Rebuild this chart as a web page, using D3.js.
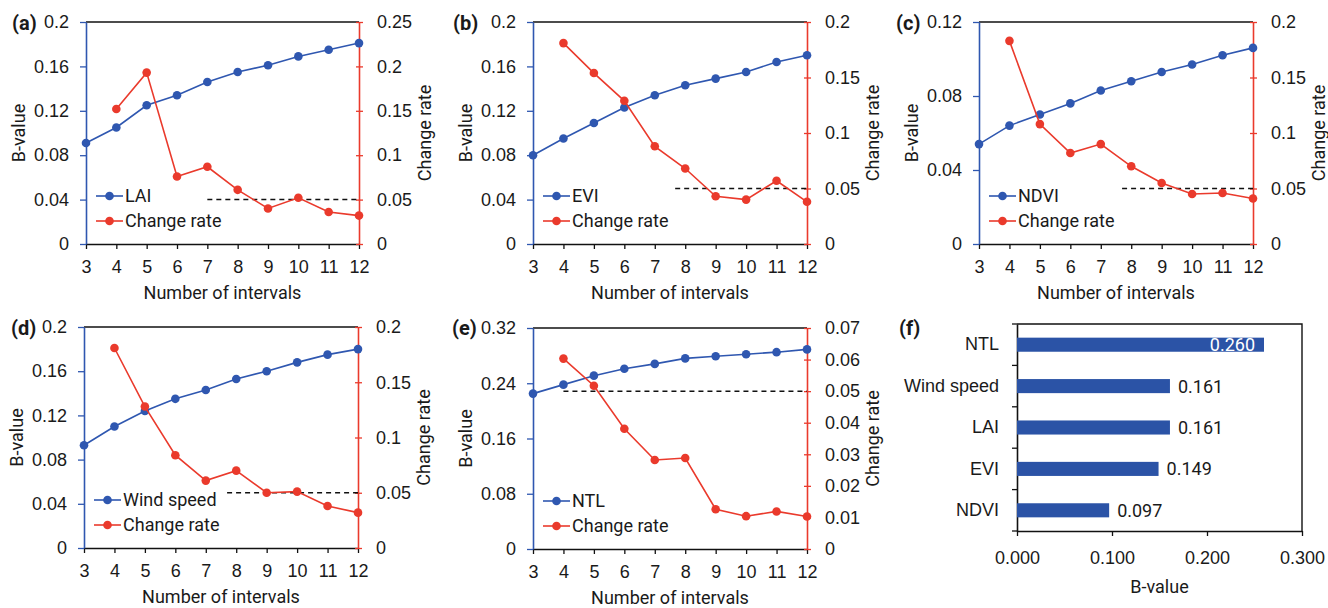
<!DOCTYPE html>
<html>
<head>
<meta charset="utf-8">
<script src="https://cdn.jsdelivr.net/npm/d3@7"></script>
<style>
  body { margin: 0; background: #fff; }
  svg { display: block; }
</style>
</head>
<body>
<script>
// number of intervals on the x axis of panels (a)-(e)
const intervals = [3, 4, 5, 6, 7, 8, 9, 10, 11, 12];
// change rates start at 4 intervals
const rateIntervals = intervals.slice(1);

const laiB = [0.091, 0.105, 0.125, 0.134, 0.146, 0.155, 0.161, 0.169, 0.175, 0.181];
const laiRate = [0.152, 0.193, 0.076, 0.087, 0.061, 0.040, 0.052, 0.036, 0.032];

const eviB = [0.080, 0.095, 0.109, 0.123, 0.134, 0.143, 0.149, 0.155, 0.164, 0.170];
const eviRate = [0.181, 0.154, 0.129, 0.088, 0.068, 0.043, 0.040, 0.057, 0.038];

const ndviB = [0.054, 0.064, 0.070, 0.076, 0.083, 0.088, 0.093, 0.097, 0.102, 0.106];
const ndviRate = [0.183, 0.108, 0.082, 0.090, 0.070, 0.055, 0.045, 0.046, 0.041];

const windB = [0.093, 0.110, 0.124, 0.135, 0.143, 0.153, 0.160, 0.168, 0.175, 0.180];
const windRate = [0.181, 0.128, 0.084, 0.061, 0.070, 0.050, 0.051, 0.038, 0.032];

const ntlB = [0.225, 0.238, 0.251, 0.261, 0.268, 0.276, 0.279, 0.282, 0.285, 0.289];
const ntlRate = [0.0603, 0.0517, 0.0381, 0.0282, 0.0288, 0.0126, 0.0104, 0.0119, 0.0103];

// threshold line and where it starts
const threshold = 0.05;
const dashStarts = [7, 7.67, 7.7, 7.7, 4];

// panel (f)
const factors = ["NTL", "Wind speed", "LAI", "EVI", "NDVI"];
const bValues = [0.260, 0.161, 0.161, 0.149, 0.097];
const barTicks = [0, 0.1, 0.2, 0.3];

const panels = [
  {tag: "(a)", name: "LAI", b: laiB, rate: laiRate, leftMax: 0.2, leftStep: 0.04, rightMax: 0.25, rightStep: 0.05},
  {tag: "(b)", name: "EVI", b: eviB, rate: eviRate, leftMax: 0.2, leftStep: 0.04, rightMax: 0.2, rightStep: 0.05},
  {tag: "(c)", name: "NDVI", b: ndviB, rate: ndviRate, leftMax: 0.12, leftStep: 0.04, rightMax: 0.2, rightStep: 0.05},
  {tag: "(d)", name: "Wind speed", b: windB, rate: windRate, leftMax: 0.2, leftStep: 0.04, rightMax: 0.2, rightStep: 0.05},
  {tag: "(e)", name: "NTL", b: ntlB, rate: ntlRate, leftMax: 0.32, leftStep: 0.08, rightMax: 0.07, rightStep: 0.01}
];

// plot boxes on the page
const slots = [
  {x0: 86, x1: 359, y0: 22, y1: 244, tagX: 12, tagY: 30},
  {x0: 533, x1: 807, y0: 22, y1: 244, tagX: 453, tagY: 30},
  {x0: 979, x1: 1253, y0: 22, y1: 244, tagX: 896, tagY: 30},
  {x0: 84, x1: 358, y0: 327, y1: 548, tagX: 11, tagY: 335},
  {x0: 533, x1: 807, y0: 328, y1: 549, tagX: 452, tagY: 335}
];
const barSlot = {x0: 1017, x1: 1302, y0: 324, y1: 531, tagX: 899, tagY: 335};

const blue = "#2f57b0";
const red = "#ea3a2c";
const barBlue = "#2b53a6";
const fontSize = 18;
const tagSize = 20;

const svg = d3.select("body").append("svg")
  .attr("width", 1328)
  .attr("height", 608)
  .style("font-family", "Roboto, 'Open Sans', sans-serif");

const trim = d => String(+d.toFixed(4));

function styleAxis(ax, color) {
  ax.select(".domain").attr("stroke", color).attr("stroke-width", 1.6);
  ax.selectAll(".tick line").attr("stroke", color).attr("stroke-width", 1.3);
  ax.selectAll(".tick text").attr("fill", "#1a1a1a").style("font-size", fontSize + "px");
}

function linePanel(p, s, dashStart) {
  const g = svg.append("g");
  const x = d3.scaleLinear().domain([3, 12]).range([s.x0, s.x1]);
  const yL = d3.scaleLinear().domain([0, p.leftMax]).range([s.y1, s.y0]);
  const yR = d3.scaleLinear().domain([0, p.rightMax]).range([s.y1, s.y0]);

  // top frame line
  g.append("line")
    .attr("x1", s.x0).attr("x2", s.x1)
    .attr("y1", s.y0).attr("y2", s.y0)
    .attr("stroke", "#111").attr("stroke-width", 1.4);

  let xAx = g.append("g")
    .attr("transform", `translate(0,${s.y1})`)
    .call(d3.axisBottom(x).tickValues(intervals).tickSize(5).tickSizeOuter(0).tickPadding(11));
  styleAxis(xAx, "#111");

  let lAx = g.append("g")
    .attr("transform", `translate(${s.x0},0)`)
    .call(d3.axisLeft(yL)
      .tickValues(d3.range(0, p.leftMax + 1e-9, p.leftStep))
      .tickFormat(trim).tickSize(6).tickSizeOuter(0).tickPadding(11));
  styleAxis(lAx, blue);

  let rAx = g.append("g")
    .attr("transform", `translate(${s.x1},0)`)
    .call(d3.axisRight(yR)
      .tickValues(d3.range(0, p.rightMax + 1e-9, p.rightStep))
      .tickFormat(trim).tickSize(4).tickSizeOuter(0).tickPadding(14));
  styleAxis(rAx, red);
  rAx.selectAll(".tick line").attr("x1", -3);

  // threshold
  g.append("line")
    .attr("x1", x(dashStart)).attr("x2", x(12))
    .attr("y1", yR(threshold)).attr("y2", yR(threshold))
    .attr("stroke", "#111").attr("stroke-width", 1.5)
    .attr("stroke-dasharray", "5,4");

  const bPts = intervals.map((k, i) => [k, p.b[i]]);
  const rPts = rateIntervals.map((k, i) => [k, p.rate[i]]);

  g.append("path")
    .attr("d", d3.line().x(d => x(d[0])).y(d => yL(d[1]))(bPts))
    .attr("fill", "none").attr("stroke", blue).attr("stroke-width", 1.6);
  g.selectAll(".bdot").data(bPts).enter().append("circle")
    .attr("cx", d => x(d[0])).attr("cy", d => yL(d[1])).attr("r", 4.3)
    .attr("fill", blue);

  g.append("path")
    .attr("d", d3.line().x(d => x(d[0])).y(d => yR(d[1]))(rPts))
    .attr("fill", "none").attr("stroke", red).attr("stroke-width", 1.6);
  g.selectAll(".rdot").data(rPts).enter().append("circle")
    .attr("cx", d => x(d[0])).attr("cy", d => yR(d[1])).attr("r", 4.3)
    .attr("fill", red);

  // legend
  const legend = [[p.name, blue], ["Change rate", red]];
  legend.forEach((item, i) => {
    const ly = s.y1 - 48 + i * 25;
    const lx = s.x0 + 10;
    g.append("line").attr("x1", lx).attr("x2", lx + 27).attr("y1", ly).attr("y2", ly)
      .attr("stroke", item[1]).attr("stroke-width", 1.6);
    g.append("circle").attr("cx", lx + 13.5).attr("cy", ly).attr("r", 4.3).attr("fill", item[1]);
    g.append("text").attr("x", lx + 29).attr("y", ly).attr("dy", "0.36em")
      .style("font-size", fontSize + "px").attr("fill", "#1a1a1a").text(item[0]);
  });

  // titles
  g.append("text")
    .attr("x", (s.x0 + s.x1) / 2).attr("y", s.y1 + 55)
    .attr("text-anchor", "middle").style("font-size", fontSize + "px").attr("fill", "#1a1a1a")
    .text("Number of intervals");
  g.append("text")
    .attr("transform", `translate(${s.x0 - 67},${(s.y0 + s.y1) / 2}) rotate(-90)`)
    .attr("dy", "0.35em").attr("text-anchor", "middle")
    .style("font-size", fontSize + "px").attr("fill", "#1a1a1a").text("B-value");
  g.append("text")
    .attr("transform", `translate(${s.x1 + 66},${(s.y0 + s.y1) / 2}) rotate(-90)`)
    .attr("dy", "0.35em").attr("text-anchor", "middle")
    .style("font-size", fontSize + "px").attr("fill", "#1a1a1a").text("Change rate");
  g.append("text").attr("x", s.tagX).attr("y", s.tagY)
    .style("font-size", tagSize + "px").style("font-weight", "bold").attr("fill", "#1a1a1a")
    .text(p.tag);
}

panels.forEach((p, i) => linePanel(p, slots[i], dashStarts[i]));

// panel (f): bars
function barPanel(s) {
  const g = svg.append("g");
  const x = d3.scaleLinear().domain([0, 0.3]).range([s.x0, s.x1]);
  const y = d3.scaleBand().domain(factors).range([s.y0, s.y1]).paddingInner(0.66).paddingOuter(0.33);
  const bars = factors.map((f, i) => ({f: f, v: bValues[i]}));

  g.append("path")
    .attr("d", `M${s.x0},${s.y0}H${s.x1}V${s.y1}`)
    .attr("fill", "none").attr("stroke", "#111").attr("stroke-width", 1.4);

  let xAx = g.append("g")
    .attr("transform", `translate(0,${s.y1})`)
    .call(d3.axisBottom(x).tickValues(barTicks).tickFormat(d3.format(".3f"))
      .tickSize(5).tickSizeOuter(0).tickPadding(15));
  styleAxis(xAx, "#111");

  let yAx = g.append("g")
    .attr("transform", `translate(${s.x0},0)`)
    .call(d3.axisLeft(y).tickSize(0).tickPadding(18));
  styleAxis(yAx, "#111");
  // ticks between categories
  d3.range(factors.length + 1).forEach(i => {
    const yy = s.y0 + i * y.step();
    g.append("line").attr("x1", s.x0 - 5).attr("x2", s.x0)
      .attr("y1", yy).attr("y2", yy).attr("stroke", "#111").attr("stroke-width", 1.3);
  });

  g.selectAll(".bar").data(bars).enter().append("rect")
    .attr("x", x(0)).attr("y", d => y(d.f))
    .attr("width", d => x(d.v) - x(0)).attr("height", y.bandwidth())
    .attr("fill", barBlue);

  g.selectAll(".val").data(bars).enter().append("text")
    .attr("x", d => d.v > 0.2 ? x(d.v) - 9 : x(d.v) + 8)
    .attr("y", d => y(d.f) + y.bandwidth() / 2).attr("dy", "0.36em")
    .attr("text-anchor", d => d.v > 0.2 ? "end" : "start")
    .style("font-size", fontSize + "px")
    .attr("fill", d => d.v > 0.2 ? "#fff" : "#1a1a1a")
    .text(d => d3.format(".3f")(d.v));

  g.append("text")
    .attr("x", (s.x0 + s.x1) / 2).attr("y", s.y1 + 62)
    .attr("text-anchor", "middle").style("font-size", fontSize + "px").attr("fill", "#1a1a1a")
    .text("B-value");
  g.append("text").attr("x", s.tagX).attr("y", s.tagY)
    .style("font-size", tagSize + "px").style("font-weight", "bold").attr("fill", "#1a1a1a")
    .text("(f)");
}

barPanel(barSlot);
</script>
</body>
</html>
